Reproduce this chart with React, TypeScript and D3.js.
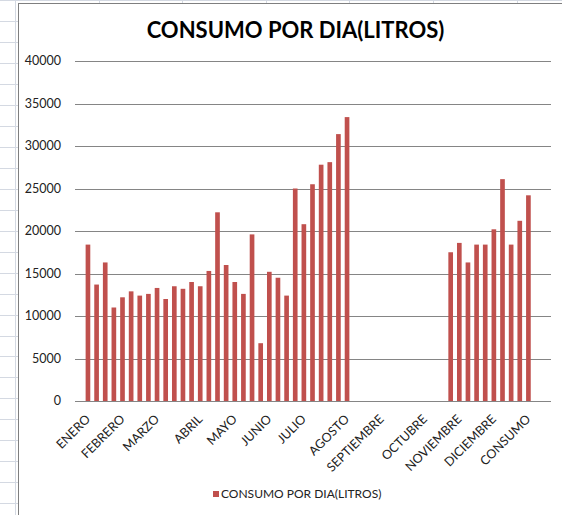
import { useEffect, useRef } from "react";
import * as d3 from "d3";

// consumo semanal, null = semana sin datos
const consumo: (number | null)[] = [
  18400, 13700, 16300, 11000, 12200, 12900, 12400, 12600, 13300, 12000,
  13500, 13200, 14000, 13500, 15300, 22200, 16000, 14000, 12600, 19600,
  6800, 15200, 14500, 12400, 25000, 20800, 25500, 27800, 28100, 31400,
  33400, null, null, null, null, null, null, null, null, null, null, null,
  17500, 18600, 16300, 18400, 18400, 20200, 26100, 18400, 21200, 24200,
];
const meses = [
  "ENERO", "FEBRERO", "MARZO", "ABRIL", "MAYO", "JUNIO", "JULIO",
  "AGOSTO", "SEPTIEMBRE", "OCTUBRE", "NOVIEMBRE", "DICIEMBRE", "CONSUMO",
];
const inicioMes = [0, 4, 8, 13, 17, 21, 25, 30, 34, 39, 43, 47, 51];
const yTicks = [0, 5000, 10000, 15000, 20000, 25000, 30000, 35000, 40000];

const W = 562;
const H = 515;
const font = "Lato, 'Open Sans', sans-serif";

export default function App() {
  const svgRef = useRef<SVGSVGElement>(null);

  useEffect(() => {
    const svg = d3.select(svgRef.current);
    svg.selectAll("*").remove();

    // fondo de hoja de cálculo
    const hoja = svg.append("g");
    hoja.append("rect").attr("width", W).attr("height", H).attr("fill", "#fff");
    for (let x = 15; x < W; x += 83.6) {
      hoja.append("line")
        .attr("x1", Math.round(x) + 0.5).attr("x2", Math.round(x) + 0.5)
        .attr("y1", 0).attr("y2", H)
        .attr("stroke", "#d4d9e2");
    }
    for (let y = 0.35; y < H; y += 20.95) {
      hoja.append("line")
        .attr("x1", 0).attr("x2", W)
        .attr("y1", Math.round(y) + 0.5).attr("y2", Math.round(y) + 0.5)
        .attr("stroke", "#d4d9e2");
    }

    // área del gráfico
    svg.append("rect")
      .attr("x", 18.5).attr("y", 3.5)
      .attr("width", 700).attr("height", 700)
      .attr("fill", "#fff")
      .attr("stroke", "#7f7f7f");

    const x = d3.scaleBand<number>()
      .domain(d3.range(-1, consumo.length + 2))
      .range([75, 550])
      .paddingInner(0.46)
      .paddingOuter(0.23);
    const y = d3.scaleLinear().domain([0, 40000]).range([401, 61]);

    svg.append("text")
      .attr("x", 295.5).attr("y", 37.6)
      .attr("text-anchor", "middle")
      .attr("font-family", font).attr("font-weight", "bold")
      .attr("font-size", 22)
      .text("CONSUMO POR DIA(LITROS)");

    const grid = svg.append("g");
    grid.selectAll("line")
      .data(yTicks)
      .join("line")
      .attr("x1", 75).attr("x2", 551)
      .attr("y1", (d) => Math.round(y(d)) + 0.5)
      .attr("y2", (d) => Math.round(y(d)) + 0.5)
      .attr("stroke", "#858585")
      .attr("stroke-width", 1.2);
    grid.selectAll("text")
      .data(yTicks)
      .join("text")
      .attr("x", 61)
      .attr("y", (d) => y(d))
      .attr("dy", "0.35em")
      .attr("text-anchor", "end")
      .attr("font-family", font).attr("font-size", 12.5)
      .attr("fill", "#222")
      .text((d) => String(d));

    svg.append("g")
      .selectAll("rect")
      .data(consumo.map((v, i) => ({ v, i })).filter((d) => d.v !== null))
      .join("rect")
      .attr("x", (d) => x(d.i)!)
      .attr("width", x.bandwidth())
      .attr("y", (d) => y(d.v!))
      .attr("height", (d) => y(0) - y(d.v!))
      .attr("fill", "#C0504D");

    svg.append("g")
      .selectAll("text")
      .data(meses)
      .join("text")
      .attr("transform", (_, k) => {
        const cx = x(inicioMes[k])! + x.bandwidth() / 2;
        return `translate(${cx + 3},420) rotate(-45)`;
      })
      .attr("text-anchor", "end")
      .attr("font-family", font).attr("font-size", 12.5)
      .attr("fill", "#222")
      .text((d) => d);

    // leyenda
    svg.append("rect")
      .attr("x", 213).attr("y", 491).attr("width", 6).attr("height", 6)
      .attr("fill", "#C0504D");
    svg.append("text")
      .attr("x", 221).attr("y", 494).attr("dy", "0.35em")
      .attr("font-family", font).attr("font-size", 12)
      .attr("fill", "#222")
      .text("CONSUMO POR DIA(LITROS)");
  }, []);

  return (
    <svg
      ref={svgRef}
      width={W}
      height={H}
      style={{ position: "absolute", left: 0, top: 0 }}
    />
  );
}
